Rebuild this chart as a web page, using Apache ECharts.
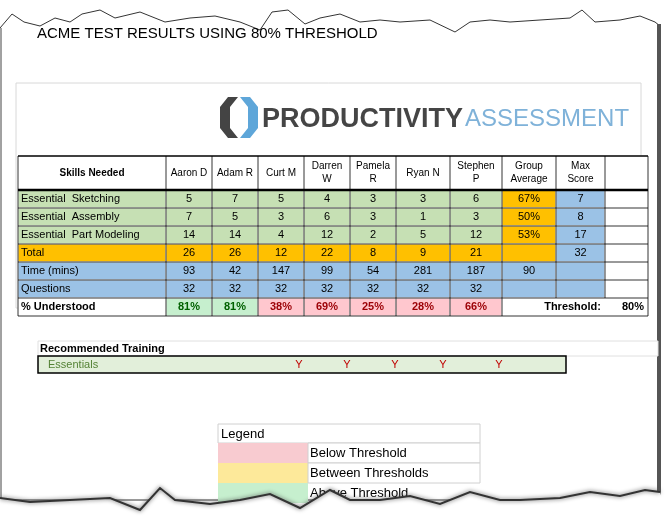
<!DOCTYPE html>
<html><head><meta charset="utf-8">
<script src="https://cdn.jsdelivr.net/npm/echarts@6/dist/echarts.min.js"></script>
<style>html,body{margin:0;padding:0;background:#fff}#main{width:670px;height:523px}</style>
</head><body><div id="main"></div>
<script>
// 数据
var people = ["Aaron D", "Adam R", "Curt M", "Darren\nW", "Pamela\nR", "Ryan N", "Stephen\nP"];
var skills = ["Essential  Sketching", "Essential  Assembly", "Essential  Part Modeling"];
var sketching = [5, 7, 5, 4, 3, 3, 6];
var assembly = [7, 5, 3, 6, 3, 1, 3];
var partModeling = [14, 14, 4, 12, 2, 5, 12];
var totals = [26, 26, 12, 22, 8, 9, 21];
var timeMins = [93, 42, 147, 99, 54, 281, 187];
var questions = [32, 32, 32, 32, 32, 32, 32];
var understood = [81, 81, 38, 69, 25, 28, 66];
var groupAverage = ["67%", "50%", "53%"];
var maxScore = [7, 8, 17];
var maxTotal = 32;
var groupTime = 90;
var threshold = 80;
var training = [0, 0, 1, 1, 1, 1, 1];
var legendItems = ["Below Threshold", "Between Thresholds", "Above Threshold"];

// 布局 (像素)
var colEdges = [18, 166, 212, 258, 304, 350, 396, 450, 502, 556, 605, 648];
var rowEdges = [156, 190, 208, 226, 244, 262, 280, 298, 316];

var GREEN = "#c6e0b4", ORANGE = "#ffc000", BLUE = "#9bc2e6";
var cells = [];
function cell(c, r, text, fill, color, bold, align, span) {
  cells.push([c, r, text, fill || "#fff", color || "#000", bold ? 1 : 0, align || "center", span || 1]);
}
// header
cell(0, 0, "Skills Needed", null, null, 1);
people.forEach(function (p, i) { cell(i + 1, 0, p); });
cell(8, 0, "Group\nAverage"); cell(9, 0, "Max\nScore"); cell(10, 0, "");
var scoreRows = [sketching, assembly, partModeling];
scoreRows.forEach(function (arr, r) {
  cell(0, r + 1, skills[r], GREEN, null, 0, "left");
  arr.forEach(function (v, i) { cell(i + 1, r + 1, String(v), GREEN); });
  cell(8, r + 1, groupAverage[r], ORANGE);
  cell(9, r + 1, String(maxScore[r]), BLUE);
  cell(10, r + 1, "");
});
cell(0, 4, "Total", ORANGE, null, 0, "left");
totals.forEach(function (v, i) { cell(i + 1, 4, String(v), ORANGE); });
cell(8, 4, "", ORANGE); cell(9, 4, String(maxTotal), BLUE); cell(10, 4, "");
cell(0, 5, "Time (mins)", BLUE, null, 0, "left");
timeMins.forEach(function (v, i) { cell(i + 1, 5, String(v), BLUE); });
cell(8, 5, String(groupTime), BLUE); cell(9, 5, "", BLUE); cell(10, 5, "");
cell(0, 6, "Questions", BLUE, null, 0, "left");
questions.forEach(function (v, i) { cell(i + 1, 6, String(v), BLUE); });
cell(8, 6, "", BLUE); cell(9, 6, "", BLUE); cell(10, 6, "");
cell(0, 7, "% Understood", null, null, 1, "left");
understood.forEach(function (v, i) {
  var ok = v >= threshold;
  cell(i + 1, 7, v + "%", ok ? "#c6efce" : "#ffc7ce", ok ? "#006100" : "#9c0006", 1);
});
cell(8, 7, "Threshold:", null, null, 1, "right", 2);
cell(10, 7, threshold + "%", null, null, 1, "right");

var trainData = [];
training.forEach(function (t, i) { if (t) trainData.push([i + 1, "Y"]); });

var myChart = echarts.init(document.getElementById("main"));
var FONT = "Liberation Sans";
var tornTop = [[0,28],[12,14],[24,22],[40,26],[55,18],[70,22],[82,14],[100,10],[115,18],[140,12],[165,22],[190,18],[215,16],[240,22],[260,30],[272,12],[288,10],[305,24],[320,18],[340,14],[360,22],[380,20],[400,22],[430,20],[455,32],[470,22],[490,20],[510,22],[540,20],[570,18],[582,10],[595,22],[620,20],[640,16],[655,22],[660,26]];
var tornBot = [[0,498],[30,502],[70,500],[110,498],[140,510],[160,488],[175,500],[210,504],[240,500],[270,494],[300,508],[330,490],[350,500],[380,500],[410,496],[440,504],[470,492],[500,500],[520,500],[560,498],[590,492],[620,496],[645,490],[660,492]];
var option = {
  animation: false,
  grid: { left: 0, right: 0, top: 0, bottom: 0 },
  xAxis: { type: "value", min: 0, max: 670, show: false },
  yAxis: { type: "value", min: 0, max: 523, inverse: true, show: false },
  graphic: [
    { type: "polyline", shape: { points: tornTop.concat([[660,500],[0,500]]) }, style: { fill: "#fff", stroke: "#333", lineWidth: 1 }, z: -1 },
    { type: "rect", shape: { x: 657, y: 24, width: 4, height: 475 }, style: { fill: "#555" }, z: -1 },
    { type: "line", shape: { x1: 1, y1: 28, x2: 1, y2: 498 }, style: { stroke: "#444", lineWidth: 1 } },
    { type: "polyline", shape: { points: tornBot }, style: { stroke: "#333", lineWidth: 2, fill: null, shadowBlur: 4, shadowColor: "#555" }, z: 10 },
    { type: "polygon", shape: { points: tornBot.concat([[670,523],[0,523]]) }, style: { fill: "#fff" }, z: 9 },
    { type: "text", x: 37, y: 26, style: { text: "ACME TEST RESULTS USING 80% THRESHOLD", font: "15px " + FONT, fill: "#000" } },
    { type: "rect", shape: { x: 16, y: 83, width: 625, height: 225 }, style: { fill: "none", stroke: "#d8d8d8" }, z: -1 },
    // logo
    { type: "polygon", shape: { points: [[228,97],[238,97],[230,107],[230,128],[238,138],[228,138],[220,128],[220,107]] }, style: { fill: "#444" } },
    { type: "polygon", shape: { points: [[240,97],[250,97],[258,107],[258,128],[250,138],[240,138],[248,128],[248,107]] }, style: { fill: "#5ea6d9" } },
    { type: "text", x: 262, y: 106, style: { text: "PRODUCTIVITY", font: "bold 27px " + FONT, fill: "#454545" } },
    { type: "text", x: 465, y: 107, style: { text: "ASSESSMENT", font: "24px " + FONT, fill: "#7fb2d9" } },
    // 推荐培训
    { type: "rect", shape: { x: 38, y: 341, width: 620, height: 15 }, style: { fill: "#fff", stroke: "#e0e0e0" } },
    { type: "rect", shape: { x: 38, y: 356, width: 528, height: 17 }, style: { fill: "#e2efda", stroke: "#000", lineWidth: 1.5 } },
    { type: "text", x: 40, y: 343, style: { text: "Recommended Training", font: "bold 11px " + FONT, fill: "#000" } },
    { type: "text", x: 48, y: 359, style: { text: "Essentials", font: "11px " + FONT, fill: "#548235" } },
    // 图例
    { type: "rect", shape: { x: 218, y: 424, width: 262, height: 19 }, style: { fill: "#fff", stroke: "#d0d0d0" } },
    { type: "text", x: 221, y: 428, style: { text: "Legend", font: "13px " + FONT, fill: "#000" } },
    { type: "rect", shape: { x: 218, y: 443, width: 90, height: 20 }, style: { fill: "#f8cbd0" } },
    { type: "rect", shape: { x: 308, y: 443, width: 172, height: 20 }, style: { fill: "#fff", stroke: "#d0d0d0" } },
    { type: "text", x: 310, y: 447, style: { text: legendItems[0], font: "13px " + FONT, fill: "#000" } },
    { type: "rect", shape: { x: 218, y: 463, width: 90, height: 20 }, style: { fill: "#fde99a" } },
    { type: "rect", shape: { x: 308, y: 463, width: 172, height: 20 }, style: { fill: "#fff", stroke: "#d0d0d0" } },
    { type: "text", x: 310, y: 467, style: { text: legendItems[1], font: "13px " + FONT, fill: "#000" } },
    { type: "rect", shape: { x: 218, y: 483, width: 90, height: 20 }, style: { fill: "#c6efce" } },
    { type: "text", x: 310, y: 487, style: { text: legendItems[2], font: "13px " + FONT, fill: "#000" } }
  ],
  series: [
    {
      type: "custom",
      data: cells,
      renderItem: function (params, api) {
        var c = api.value(0), r = api.value(1), d = cells[params.dataIndex];
        var p0 = api.coord([colEdges[c], rowEdges[r]]);
        var p1 = api.coord([colEdges[c + d[7]], rowEdges[r + 1]]);
        var w = p1[0] - p0[0], h = p1[1] - p0[1];
        var tx = d[6] === "left" ? p0[0] + 3 : d[6] === "right" ? p1[0] - 4 : p0[0] + w / 2;
        return {
          type: "group",
          children: [
            { type: "rect", shape: { x: p0[0], y: p0[1], width: w, height: h }, style: { fill: d[3], stroke: "#fff", lineWidth: 1 } },
            { type: "text", x: tx, y: p0[1] + h / 2, style: { text: d[2], align: d[6], verticalAlign: "middle", font: (d[5] ? "bold " : "") + (r === 0 ? "10px " : "11px ") + FONT, fill: d[4], lineHeight: 13 } }
          ]
        };
      }
    },
    {
      // 表格网格线
      type: "custom",
      data: [[0]],
      renderItem: function (params, api) {
        var ch = [];
        var y0 = api.coord([0, rowEdges[0]])[1], y1 = api.coord([0, rowEdges[rowEdges.length - 1]])[1];
        colEdges.forEach(function (x, i) {
          var px = api.coord([x, 0])[0];
          ch.push({ type: "line", shape: { x1: px, y1: y0, x2: px, y2: i === 9 || i === 10 ? rowEdges[7] : y1 }, style: { stroke: "#000", lineWidth: 0.8 } });
        });
        rowEdges.forEach(function (y, i) {
          var py = api.coord([0, y])[1];
          ch.push({ type: "line", shape: { x1: colEdges[0], y1: py, x2: colEdges[colEdges.length - 1], y2: py }, style: { stroke: "#000", lineWidth: i === 1 ? 2.5 : (i === 0 ? 1.5 : 0.8) } });
        });
        return { type: "group", children: ch };
      }
    },
    {
      type: "custom",
      data: trainData,
      renderItem: function (params, api) {
        var c = api.value(0);
        var p = api.coord([colEdges[c] + 41, 365]);
        return { type: "text", x: p[0] + (c - 3) * 2, y: p[1], style: { text: "Y", align: "center", verticalAlign: "middle", font: "11px " + FONT, fill: "#c00000" } };
      }
    }
  ]
};
myChart.setOption(option);
</script></body></html>
